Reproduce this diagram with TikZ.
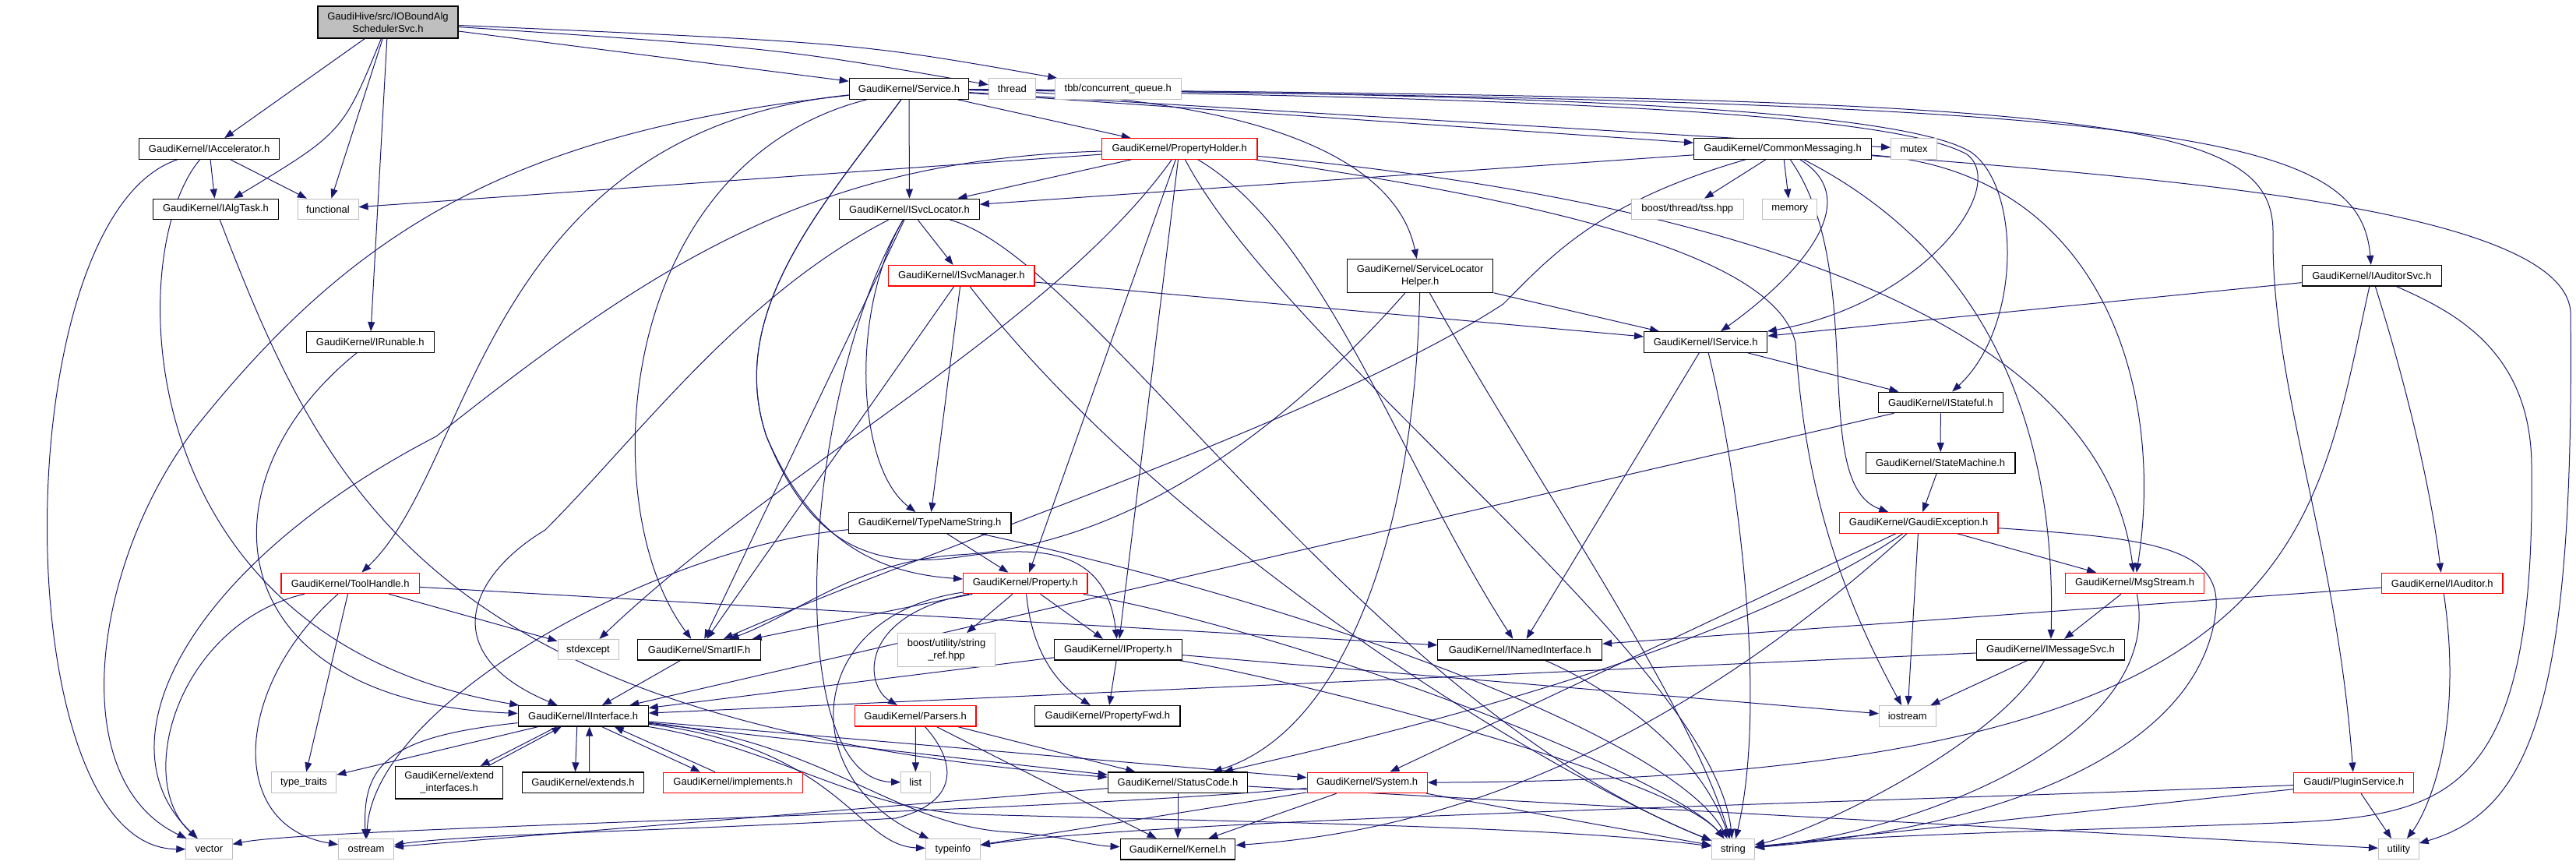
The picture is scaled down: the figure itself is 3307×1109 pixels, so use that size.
\documentclass[tikz,border=0pt]{standalone}
\usepackage{fontspec}
\setmainfont{Liberation Sans}
\usetikzlibrary{arrows.meta,calc,backgrounds}
\definecolor{edgec}{HTML}{191970}
\definecolor{rootgray}{HTML}{BFBFBF}
\definecolor{extgray}{HTML}{BFBFBF}
\tikzset{
  nd/.style={draw=black, fill=white, line width=1.2pt, minimum height=26.5pt, inner sep=0pt,
             font=\fontsize{13}{15.7}\selectfont, align=center},
  rd/.style={nd, draw=red},
  gy/.style={nd, draw=extgray, line width=1pt},
  e/.style={draw=edgec, line width=1pt, -{Triangle[length=12pt,width=9pt]}},
}
\begin{document}
\begin{tikzpicture}[x=1pt,y=-1pt]
\useasboundingbox (0,0) rectangle (3307,1109);
% ---------------- nodes ----------------
\node[nd, fill=rootgray, minimum width=180pt, minimum height=41pt] (root) at (498,28.5) {GaudiHive/src/IOBoundAlg\\SchedulerSvc.h};
\node[nd, minimum width=180.5pt] (iacc) at (268.6,191) {GaudiKernel/IAccelerator.h};
\node[nd, minimum width=161pt] (ialg) at (277,268.4) {GaudiKernel/IAlgTask.h};
\node[gy, minimum width=78pt] (func) at (421,268.4) {functional};
\node[nd, minimum width=164pt] (irun) at (475.3,439) {GaudiKernel/IRunable.h};
\node[nd, minimum width=153.5pt] (svc) at (1167,114) {GaudiKernel/Service.h};
\node[gy, minimum width=60pt] (thread) at (1299.3,114) {thread};
\node[gy, minimum width=161.4pt] (tbb) at (1435.3,114) {tbb/concurrent\_queue.h};
\node[rd, minimum width=199.6pt] (ph) at (1514.2,191) {GaudiKernel/PropertyHolder.h};
\node[nd, minimum width=179.4pt] (isl) at (1167.5,268.4) {GaudiKernel/ISvcLocator.h};
\node[rd, minimum width=187.2pt] (ism) at (1234.4,353.7) {GaudiKernel/ISvcManager.h};
\node[nd, minimum width=228pt] (cm) at (2288.6,191) {GaudiKernel/CommonMessaging.h};
\node[gy, minimum width=59pt] (mutex) at (2457,191) {mutex};
\node[gy, minimum width=143.4pt] (tss) at (2166.3,268.4) {boost/thread/tss.hpp};
\node[gy, minimum width=70.4pt] (memory) at (2297.7,268.4) {memory};
\node[nd, minimum width=187.3pt, minimum height=43pt] (slh) at (1823.2,354) {GaudiKernel/ServiceLocator\\Helper.h};
\node[nd, minimum width=158.2pt] (isvc) at (2189.7,439) {GaudiKernel/IService.h};
\node[nd, minimum width=160.2pt] (istate) at (2491.3,516.4) {GaudiKernel/IStateful.h};
\node[nd, minimum width=179.4pt] (iaudsvc) at (3044.9,353.7) {GaudiKernel/IAuditorSvc.h};
\node[rd, minimum width=177.3pt] (tool) at (449.7,748.4) {GaudiKernel/ToolHandle.h};
\node[gy, minimum width=78pt] (stdexc) at (755,833.7) {stdexcept};
\node[nd, minimum width=167pt] (iint) at (748.7,918.8) {GaudiKernel/IInterface.h};
\node[gy, minimum width=83.7pt] (tt) at (390,1004.2) {type\_traits};
\node[nd, minimum width=138.2pt, minimum height=41.4pt] (extint) at (576.7,1004.2) {GaudiKernel/extend\\\_interfaces.h};
\node[nd, minimum width=155.7pt] (extends) at (748.5,1004.2) {GaudiKernel/extends.h};
\node[gy, minimum width=59.3pt] (vector) at (268.4,1089.7) {vector};
\node[gy, minimum width=70.9pt] (ostream) at (470,1089.7) {ostream};
\node[nd, minimum width=208.6pt] (tns) at (1193.7,670.9) {GaudiKernel/TypeNameString.h};
\node[rd, minimum width=159.3pt] (prop) at (1316.3,748.5) {GaudiKernel/Property.h};
\node[nd, minimum width=158pt] (smartif) at (897.7,833.7) {GaudiKernel/SmartIF.h};
\node[gy, minimum width=125.4pt, minimum height=42.8pt] (boostsr) at (1215.1,834) {boost/utility/string\\\_ref.hpp};
\node[nd, minimum width=163.6pt] (iprop) at (1435.3,833.7) {GaudiKernel/IProperty.h};
\node[rd, minimum width=155.6pt] (parsers) at (1175.2,918.8) {GaudiKernel/Parsers.h};
\node[nd, minimum width=186.3pt] (propfwd) at (1421.9,918.8) {GaudiKernel/PropertyFwd.h};
\node[rd, minimum width=178.3pt] (impl) at (941,1004.4) {GaudiKernel/implements.h};
\node[gy, minimum width=37.6pt] (list) at (1175.4,1004.2) {list};
\node[nd, minimum width=179.5pt] (sc) at (1512,1004.2) {GaudiKernel/StatusCode.h};
\node[gy, minimum width=69.9pt] (typeinfo) at (1223.4,1089.7) {typeinfo};
\node[nd, minimum width=147.7pt] (kernel) at (1512,1089.7) {GaudiKernel/Kernel.h};
\node[nd, minimum width=210.7pt] (inamed) at (1951.2,833.7) {GaudiKernel/INamedInterface.h};
\node[gy, minimum width=72.7pt] (iostream) at (2448.7,918.8) {iostream};
\node[rd, minimum width=154pt] (system) at (1755.1,1004.4) {GaudiKernel/System.h};
\node[gy, minimum width=55pt] (string) at (2224.9,1089.7) {string};
\node[nd, minimum width=191.6pt] (statem) at (2491.1,594) {GaudiKernel/StateMachine.h};
\node[rd, minimum width=203.6pt] (gexc) at (2463.2,670.9) {GaudiKernel/GaudiException.h};
\node[rd, minimum width=178.3pt] (msgs) at (2740.6,748.5) {GaudiKernel/MsgStream.h};
\node[nd, minimum width=190.5pt] (imsg) at (2632.5,833.7) {GaudiKernel/IMessageSvc.h};
\node[rd, minimum width=155.3pt] (iaud) at (3135.3,748.5) {GaudiKernel/IAuditor.h};
\node[rd, minimum width=154.3pt] (plugin) at (3021.7,1004.4) {Gaudi/PluginService.h};
\node[gy, minimum width=51.8pt] (utility) at (3079.3,1089.7) {utility};
% ---------------- edges ----------------
\begin{pgfonlayer}{background}
\fill[white] (0,0) rectangle (3307,1109);
% root
\draw[e] (root) -- (iacc);
\draw[e] (root) .. controls (440,170) .. (ialg);
\draw[e] (root) -- (func);
\draw[e] (root) -- (irun);
\draw[e] (root) -- (svc);
\draw[e] (root) .. controls (1000,62) .. (thread);
\draw[e] (root) .. controls (1100,55) .. (tbb);
% IAccelerator, IAlgTask, IRunable
\draw[e] (iacc) -- (ialg);
\draw[e] (iacc) -- (func);
\draw[e] (iacc) .. controls (158,320) and (160,820) .. (iint);
\draw[e] (iacc) .. controls (5,280) and (5,1089) .. (vector);
\draw[e] (ialg) .. controls (420,640) and (560,930) .. (sc);
\draw[e] (irun) .. controls (250,620) and (280,900) .. (iint);
% Service
\draw[e] (svc) -- (ph);
\draw[e] (svc) -- (isl);
\draw[e] (svc) -- (cm);
\draw[e] (svc) -- (mutex);
\draw[e] (svc) .. controls (1700,125) and (1800,240) .. (slh);
\draw[e] (svc) .. controls (1900,125) and (2420,140) .. (2525,198) .. controls (2580,240) and (2470,390) .. (isvc);
\draw[e] (svc) .. controls (1900,120) and (2430,135) .. (2530,195) .. controls (2595,240) and (2595,420) .. (istate);
\draw[e] (svc) .. controls (2800,130) and (3030,170) .. (iaudsvc);
\draw[e] (svc) .. controls (2700,125) and (2920,150) .. (2918,300) .. controls (2916,500) and (3000,700) .. (plugin);
\draw[e] (svc) .. controls (620,170) and (607,600) .. (tool);
\draw[e] (svc) .. controls (790,210) and (760,650) .. (smartif);
\draw[e] (svc) .. controls (650,170) and (450,300) .. (250,550) .. controls (120,720) and (80,1000) .. (vector);
\draw[e] (svc) .. controls (1060,260) and (930,400) .. (984,560) .. controls (1040,690) and (1120,735) .. (prop);
\draw[e] (svc) .. controls (1060,260) and (930,400) .. (984,560) .. controls (1040,700) and (1120,730) .. (1230,715) .. controls (1330,700) and (1420,700) .. (iprop);
% PropertyHolder
\draw[e] (ph) -- (func);
\draw[e] (ph) -- (isl);
\draw[e] (ph) -- (prop);
\draw[e] (ph) -- (iprop);
\draw[e] (ph) .. controls (1050,205) and (850,330) .. (560,560) .. controls (250,720) and (120,950) .. (vector);
\draw[e] (ph) .. controls (1350,420) and (1000,600) .. (stdexc);
\draw[e] (ph) .. controls (1700,300) and (1800,600) .. (inamed);
\draw[e] (ph) .. controls (2000,260) and (2280,330) .. (2305,440) .. controls (2315,580) and (2340,720) .. (iostream);
\draw[e] (ph) .. controls (1650,450) and (2200,850) .. (string);
\draw[e] (ph) .. controls (2250,260) and (2700,420) .. (msgs);
% ISvcLocator, ISvcManager
\draw[e] (isl) -- (ism);
\draw[e] (isl) .. controls (950,380) and (820,560) .. (700,680) .. controls (600,740) and (560,840) .. (iint);
\draw[e] (isl) -- (smartif);
\draw[e] (isl) .. controls (1090,400) and (1100,600) .. (tns);
\draw[e] (isl) .. controls (1030,500) and (1000,1000) .. (list);
\draw[e] (isl) .. controls (1400,330) and (1750,900) .. (string);
\draw[e] (ism) -- (tns);
\draw[e] (ism) -- (isvc);
\draw[e] (ism) -- (smartif);
\draw[e] (ism) .. controls (1500,700) and (2000,1000) .. (string);
% CommonMessaging
\draw[e] (cm) -- (isl);
\draw[e] (cm) -- (tss);
\draw[e] (cm) -- (memory);
\draw[e] (cm) .. controls (2400,260) and (2300,360) .. (isvc);
\draw[e] (cm) .. controls (2400,350) and (2320,620) .. (gexc);
\draw[e] (cm) .. controls (2700,220) and (2780,500) .. (msgs);
\draw[e] (cm) .. controls (2560,330) and (2640,560) .. (imsg);
\draw[e] (cm) .. controls (2800,230) and (3290,270) .. (3300,400) .. controls (3305,900) and (3250,1040) .. (utility);
\draw[e] (cm) .. controls (2050,260) and (1990,330) .. (1930,390) .. controls (1700,540) and (1200,700) .. (smartif);
% ServiceLocatorHelper
\draw[e] (slh) -- (isvc);
\draw[e] (slh) .. controls (1815,700) and (1720,940) .. (sc);
\draw[e] (slh) .. controls (1960,600) and (2170,900) .. (string);
\draw[e] (slh) .. controls (1650,550) and (1450,700) .. (1230,712) .. controls (1100,720) and (1020,790) .. (smartif);
% IService, IStateful, StateMachine
\draw[e] (isvc) -- (inamed);
\draw[e] (isvc) -- (istate);
\draw[e] (isvc) .. controls (2230,600) and (2270,900) .. (string);
\draw[e] (istate) -- (statem);
\draw[e] (istate) -- (iint);
\draw[e] (statem) -- (gexc);
% GaudiException
\draw[e] (gexc) -- (msgs);
\draw[e] (gexc) -- (iostream);
\draw[e] (gexc) -- (system);
\draw[e] (gexc) .. controls (2100,1000) and (1800,1070) .. (kernel);
\draw[e] (gexc) .. controls (2750,690) and (2850,700) .. (2845,780) .. controls (2830,950) and (2600,1060) .. (string);
\draw[e] (gexc) .. controls (2200,850) and (1700,960) .. (sc);
% MsgStream, IMessageSvc
\draw[e] (msgs) -- (imsg);
\draw[e] (msgs) .. controls (2780,950) and (2450,1070) .. (string);
\draw[e] (imsg) -- (iostream);
\draw[e] (imsg) .. controls (2560,960) and (2320,1070) .. (string);
\draw[e] (imsg) -- (iint);
% IAuditorSvc, IAuditor, PluginService
\draw[e] (iaudsvc) -- (isvc);
\draw[e] (iaudsvc) .. controls (3085,480) and (3120,620) .. (iaud);
\draw[e] (iaudsvc) .. controls (2968,700) and (2960,1000) .. (system);
\draw[e] (iaudsvc) .. controls (3150,400) and (3250,450) .. (3250,600) .. controls (3255,1010) and (3150,1045) .. (2950,1055) .. controls (2700,1065) and (2400,1070) .. (string);
\draw[e] (iaud) -- (inamed);
\draw[e] (iaud) .. controls (3165,950) and (3110,1050) .. (utility);
\draw[e] (plugin) -- (utility);
\draw[e] (plugin) -- (string);
\draw[e] (plugin) .. controls (2400,1030) and (1500,1050) .. (typeinfo);
% ToolHandle
\draw[e] (tool) -- (inamed);
\draw[e] (tool) -- (stdexc);
\draw[e] (tool) .. controls (230,800) and (170,1000) .. (vector);
\draw[e] (tool) -- (tt);
\draw[e] (tool) .. controls (300,880) and (290,1060) .. (ostream);
% TypeNameString
\draw[e] (tns) -- (prop);
\draw[e] (tns) .. controls (1700,780) and (2150,950) .. (string);
\draw[e] (tns) .. controls (850,700) and (480,900) .. (ostream);
% Property
\draw[e] (prop) -- (smartif);
\draw[e] (prop) -- (boostsr);
\draw[e] (prop) -- (iprop);
\draw[e] (prop) .. controls (1325,840) and (1360,880) .. (propfwd);
\draw[e] (prop) .. controls (1100,790) and (1110,880) .. (parsers);
\draw[e] (prop) .. controls (1700,820) and (2150,1000) .. (string);
\draw[e] (prop) .. controls (1030,790) and (1020,1000) .. (typeinfo);
% IProperty
\draw[e] (iprop) -- (propfwd);
\draw[e] (iprop) -- (iint);
\draw[e] (iprop) -- (iostream);
\draw[e] (iprop) .. controls (1700,880) and (2150,1000) .. (string);
% Parsers
\draw[e] (parsers) -- (list);
\draw[e] (parsers) -- (sc);
\draw[e] (parsers) -- (kernel);
\draw[e] (parsers) .. controls (1230,980) and (1230,1030) .. (1150,1050) .. controls (900,1065) and (600,1070) .. (ostream);
% SmartIF
\draw[e] (smartif) -- (iint);
% IInterface
\draw[e] (iint) -- (tt);
\draw[e] (iint) .. controls (500,945) and (465,980) .. (ostream);
\draw[e] ($(iint.south)+(-34,0)$) -- ($(extint.north)+(40,0)$);
\draw[e] ($(extint.north)+(50,0)$) -- ($(iint.south)+(-28,0)$);
\draw[e] ($(iint.south)+(-8,0)$) -- ($(extends.north)+(-10,0)$);
\draw[e] ($(extends.north)+(8,0)$) -- ($(iint.south)+(8,0)$);
\draw[e] ($(iint.south)+(24,0)$) -- ($(impl.north)+(-42,0)$);
\draw[e] ($(impl.north)+(-23,0)$) -- ($(iint.south)+(40,0)$);
\draw[e] (iint) .. controls (1080,960) and (1100,1085) .. (typeinfo);
\draw[e] (iint) .. controls (1060,950) and (1150,1062) .. (1300,1068) .. controls (1360,1072) and (1400,1085) .. (kernel);
\draw[e] (iint) -- (sc);
\draw[e] (iint) -- (system);
\draw[e] (iint) .. controls (1000,960) and (1100,1040) .. (1250,1045) .. controls (1600,1055) and (2000,1060) .. (string);
% StatusCode, System, INamedInterface
\draw[e] (sc) -- (kernel);
\draw[e] (sc) -- (ostream);
\draw[e] (sc) -- (utility);
\draw[e] (system) -- (kernel);
\draw[e] (system) -- (typeinfo);
\draw[e] (system) -- (string);
\draw[e] (system) .. controls (1300,1045) and (400,1062) .. (vector);
\draw[e] (inamed) .. controls (2060,880) and (2180,960) .. (string);
\end{pgfonlayer}
\end{tikzpicture}
\end{document}
